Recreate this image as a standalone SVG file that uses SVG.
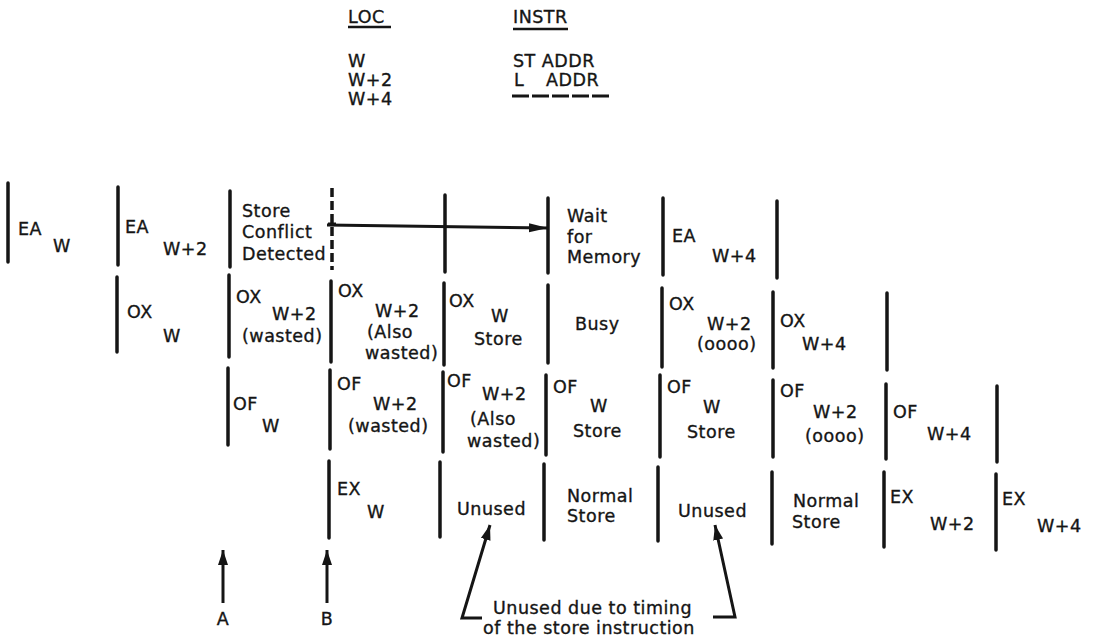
<svg xmlns="http://www.w3.org/2000/svg" width="1102" height="643" viewBox="0 0 1102 643">
<style>
.bar{stroke:#151515;stroke-width:3.5;stroke-linecap:round;fill:none}
.dbar{stroke:#151515;stroke-width:3.5;fill:none;stroke-dasharray:9 4}
.ln{stroke:#151515;stroke-width:3;fill:none;stroke-linejoin:miter}
.ul{stroke:#151515;stroke-width:2.5;fill:none}
text{font-family:"DejaVu Sans","Liberation Sans",sans-serif;font-size:17.5px;fill:#151515;stroke:#151515;stroke-width:0.35px;letter-spacing:0.5px}
</style>
<defs>
<marker id="ah" markerUnits="userSpaceOnUse" markerWidth="20" markerHeight="12" refX="19" refY="6" orient="auto">
<path d="M0,1.5 L19,6 L0,10.5 z" fill="#151515"/>
</marker>
<marker id="ahs" markerUnits="userSpaceOnUse" markerWidth="16" markerHeight="12" refX="15" refY="6" orient="auto">
<path d="M0,1 L15,6 L0,11 z" fill="#151515"/>
</marker>
</defs>
<rect width="1102" height="643" fill="#ffffff"/>

<g id="header">
<text x="348" y="23">LOC</text>
<line class="ul" x1="348" y1="27" x2="391" y2="27"/>
<text x="513" y="23">INSTR</text>
<line class="ul" x1="513" y1="29" x2="568" y2="29"/>
<text x="348" y="67">W</text>
<text x="348" y="86">W+2</text>
<text x="348" y="105">W+4</text>
<text x="513" y="67">ST ADDR</text>
<text x="514" y="86">L <tspan x="546">ADDR</tspan></text>
<line x1="512" y1="96" x2="610" y2="96" stroke="#151515" stroke-width="3" stroke-dasharray="17 3"/>
</g>

<g id="r1c1"><line class="bar" x1="8" y1="183" x2="8" y2="262"/><text x="18" y="235">EA</text><text x="53" y="252">W</text></g>
<g id="r1c2"><line class="bar" x1="118" y1="187" x2="118" y2="265"/><text x="125" y="233">EA</text><text x="163" y="255">W+2</text></g>
<g id="r1c3"><line class="bar" x1="230" y1="191" x2="230" y2="267"/><text x="242" y="217">Store</text><text x="242" y="238">Conflict</text><text x="242" y="260">Detected</text></g>
<g id="r1c4"><line class="dbar" x1="332" y1="188" x2="332" y2="270"/></g>
<g id="r1c5"><line class="bar" x1="445" y1="195" x2="445" y2="272"/></g>
<g id="r1c6"><line class="bar" x1="548" y1="198" x2="548" y2="273"/><text x="567" y="222">Wait</text><text x="567" y="243">for</text><text x="567" y="263">Memory</text></g>
<g id="r1c7"><line class="bar" x1="663" y1="198" x2="663" y2="275"/><text x="672" y="242">EA</text><text x="712" y="262">W+4</text></g>
<g id="r1c8"><line class="bar" x1="777" y1="201" x2="777" y2="278"/></g>

<g id="r2c1"><line class="bar" x1="117" y1="277" x2="117" y2="352"/><text x="127" y="318">OX</text><text x="163" y="342">W</text></g>
<g id="r2c2"><line class="bar" x1="229" y1="275" x2="229" y2="357"/><text x="236" y="303">OX</text><text x="272" y="320">W+2</text><text x="242" y="342">(wasted)</text></g>
<g id="r2c3"><line class="bar" x1="331" y1="281" x2="331" y2="362"/><text x="338" y="297">OX</text><text x="375" y="317">W+2</text><text x="367" y="338">(Also</text><text x="365" y="359">wasted)</text></g>
<g id="r2c4"><line class="bar" x1="444" y1="283" x2="444" y2="365"/><text x="449" y="307">OX</text><text x="491" y="322">W</text><text x="474" y="345">Store</text></g>
<g id="r2c5"><line class="bar" x1="548" y1="285" x2="548" y2="363"/><text x="575" y="330">Busy</text></g>
<g id="r2c6"><line class="bar" x1="662" y1="288" x2="662" y2="367"/><text x="669" y="310">OX</text><text x="707" y="330">W+2</text><text x="697" y="350">(oooo)</text></g>
<g id="r2c7"><line class="bar" x1="773" y1="292" x2="773" y2="368"/><text x="780" y="327">OX</text><text x="802" y="350">W+4</text></g>
<g id="r2c8"><line class="bar" x1="887" y1="293" x2="887" y2="370"/></g>

<g id="r3c1"><line class="bar" x1="228" y1="368" x2="228" y2="445"/><text x="233" y="410">OF</text><text x="262" y="432">W</text></g>
<g id="r3c2"><line class="bar" x1="330" y1="370" x2="330" y2="449"/><text x="337" y="390">OF</text><text x="373" y="410">W+2</text><text x="348" y="432">(wasted)</text></g>
<g id="r3c3"><line class="bar" x1="443" y1="372" x2="443" y2="452"/><text x="447" y="387">OF</text><text x="482" y="400">W+2</text><text x="470" y="425">(Also</text><text x="467" y="447">wasted)</text></g>
<g id="r3c4"><line class="bar" x1="546" y1="375" x2="546" y2="455"/><text x="553" y="393">OF</text><text x="590" y="412">W</text><text x="573" y="437">Store</text></g>
<g id="r3c5"><line class="bar" x1="660" y1="375" x2="660" y2="457"/><text x="667" y="393">OF</text><text x="703" y="413">W</text><text x="687" y="438">Store</text></g>
<g id="r3c6"><line class="bar" x1="773" y1="380" x2="773" y2="457"/><text x="780" y="397">OF</text><text x="813" y="418">W+2</text><text x="805" y="442">(oooo)</text></g>
<g id="r3c7"><line class="bar" x1="886" y1="384" x2="886" y2="459"/><text x="893" y="418">OF</text><text x="927" y="440">W+4</text></g>
<g id="r3c8"><line class="bar" x1="997" y1="386" x2="997" y2="462"/></g>

<g id="r4c1"><line class="bar" x1="329" y1="461" x2="329" y2="538"/><text x="337" y="495">EX</text><text x="367" y="518">W</text></g>
<g id="r4c2"><line class="bar" x1="440" y1="462" x2="440" y2="537"/><text x="457" y="515">Unused</text></g>
<g id="r4c3"><line class="bar" x1="544" y1="464" x2="544" y2="540"/><text x="567" y="502">Normal</text><text x="567" y="522">Store</text></g>
<g id="r4c4"><line class="bar" x1="658" y1="467" x2="658" y2="541"/><text x="678" y="517">Unused</text></g>
<g id="r4c5"><line class="bar" x1="772" y1="472" x2="772" y2="544"/><text x="793" y="507">Normal</text><text x="792" y="528">Store</text></g>
<g id="r4c6"><line class="bar" x1="884" y1="472" x2="884" y2="547"/><text x="890" y="503">EX</text><text x="930" y="530">W+2</text></g>
<g id="r4c7"><line class="bar" x1="996" y1="474" x2="996" y2="550"/><text x="1002" y="505">EX</text><text x="1037" y="532">W+4</text></g>

<g id="labelA"><text x="223" y="625" text-anchor="middle">A</text></g>
<g id="labelB"><text x="327" y="625" text-anchor="middle">B</text></g>
<g id="note"><text x="493" y="614">Unused due to timing</text><text x="483" y="634">of the store instruction</text></g>

<g id="connectors">
<line class="ln" x1="327" y1="225" x2="548" y2="228" marker-end="url(#ah)"/>
<line class="ln" x1="328" y1="224" x2="336" y2="224"/>
<line class="ln" x1="223" y1="603" x2="223" y2="550" marker-end="url(#ahs)"/>
<line class="ln" x1="327" y1="603" x2="327" y2="550" marker-end="url(#ahs)"/>
<polyline class="ln" points="482,618 462,618 490,525" marker-end="url(#ahs)"/>
<polyline class="ln" points="713,617 735,617 715,525" marker-end="url(#ahs)"/>
</g>
</svg>
